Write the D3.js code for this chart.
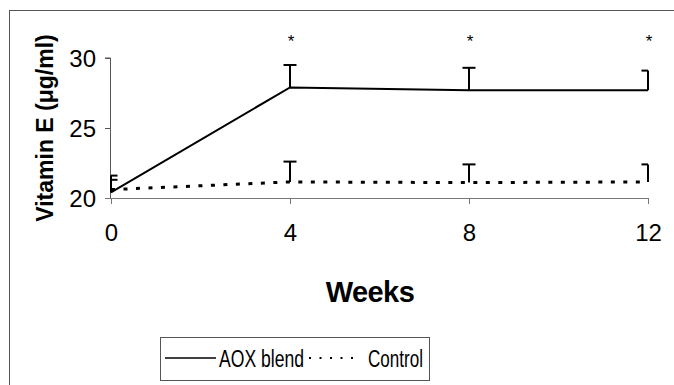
<!DOCTYPE html>
<html>
<head>
<meta charset="utf-8">
<script src="https://cdn.jsdelivr.net/npm/d3@7"></script>
<style>
  html, body { margin: 0; padding: 0; background: #fff; }
  svg { display: block; }
  text { font-family: "Liberation Sans", Arial, sans-serif; fill: #000; }
</style>
</head>
<body>
<svg id="chart" width="674" height="385"></svg>
<script>
// Plasma vitamin E over 12 weeks, mean with upper error bar
const weeks = [0, 4, 8, 12];
const aoxBlend = [20.4, 27.9, 27.7, 27.7];
const aoxErr = [1.2, 1.6, 1.6, 1.4];
const control = [20.6, 21.15, 21.1, 21.15];
const controlErr = [0.7, 1.45, 1.3, 1.25];
const significant = [false, true, true, true];
const yTicks = [20, 25, 30];
const xTicks = [0, 4, 8, 12];
const seriesNames = ["AOX blend", "Control"];

const svg = d3.select("#chart");

// outer frame (runs off the right and bottom edges)
svg.append("rect")
  .attr("x", 9.5).attr("y", 10.5)
  .attr("width", 700).attr("height", 400)
  .attr("fill", "none").attr("stroke", "#555").attr("stroke-width", 1);

const x = d3.scaleLinear().domain([0, 12]).range([111, 648]);
const y = d3.scaleLinear().domain([20, 30]).range([198, 58]);

// y axis
const yAxis = svg.append("g").attr("transform", "translate(111,0)")
  .call(d3.axisLeft(y).tickValues(yTicks).tickSize(6).tickPadding(9).tickFormat(d3.format("d")));
yAxis.select(".domain").attr("stroke", "#555").attr("d", `M-0.5,${y(20)}V${y(30)}H-6`);
yAxis.selectAll(".tick line").attr("stroke", "#555");
yAxis.selectAll("text").style("font-size", "24px").attr("dy", "0.36em");

// x axis
const xAxis = svg.append("g").attr("transform", `translate(0,${y(20)})`)
  .call(d3.axisBottom(x).tickValues(xTicks).tickSize(6).tickPadding(20).tickFormat(d3.format("d")));
xAxis.select(".domain").attr("stroke", "#777").attr("d", `M${x(0)-6},0.5H${x(12)}`);
xAxis.selectAll(".tick line").attr("stroke", "#777");
xAxis.selectAll("text").style("font-size", "24px");

// axis titles
svg.append("text")
  .attr("x", 370).attr("y", 302)
  .attr("text-anchor", "middle")
  .style("font-size", "29px").style("font-weight", "bold").style("letter-spacing", "-0.6px")
  .text("Weeks");

svg.append("text")
  .attr("transform", `translate(53,${(y(20) + y(30)) / 2}) rotate(-90)`)
  .attr("text-anchor", "middle")
  .style("font-size", "23px").style("font-weight", "bold")
  .text("Vitamin E (μg/ml)");

const line = d3.line().x((d, i) => x(weeks[i])).y(d => y(d));

// control (dotted)
svg.append("path").datum(control)
  .attr("d", line).attr("fill", "none").attr("stroke", "#000")
  .attr("stroke-width", 3).attr("stroke-dasharray", "4,8.5");

// AOX blend (solid)
svg.append("path").datum(aoxBlend)
  .attr("d", line).attr("fill", "none").attr("stroke", "#000")
  .attr("stroke-width", 2);

// upper error bars; caps clipped at the plot edges
function errorBars(values, errs) {
  const g = svg.append("g").attr("stroke", "#000").attr("stroke-width", 2);
  values.forEach((v, i) => {
    const cx = x(weeks[i]);
    const top = y(v + errs[i]);
    const left = Math.max(x(0), cx - 6.5);
    const right = Math.min(x(12), cx + 6.5);
    g.append("line").attr("x1", cx).attr("x2", cx).attr("y1", y(v)).attr("y2", top);
    g.append("line").attr("x1", left).attr("x2", right).attr("y1", top).attr("y2", top);
  });
}
errorBars(aoxBlend, aoxErr);
errorBars(control, controlErr);

// significance markers
svg.append("g").selectAll("text")
  .data(weeks.filter((w, i) => significant[i]))
  .join("text")
  .attr("x", d => x(d) + 1).attr("y", 47)
  .attr("text-anchor", "middle")
  .style("font-size", "17px")
  .text("*");

// legend (condensed labels)
const lg = svg.append("g");
lg.append("rect").attr("x", 160.5).attr("y", 337.5).attr("width", 269).attr("height", 43)
  .attr("fill", "#fff").attr("stroke", "#555");
lg.append("line").attr("x1", 165).attr("x2", 216).attr("y1", 358).attr("y2", 358)
  .attr("stroke", "#000").attr("stroke-width", 1.5);
lg.append("text").attr("x", 219).attr("y", 367)
  .style("font-size", "23px")
  .attr("textLength", 85).attr("lengthAdjust", "spacingAndGlyphs")
  .text(seriesNames[0]);
lg.append("line").attr("x1", 309).attr("x2", 354).attr("y1", 358).attr("y2", 358)
  .attr("stroke", "#000").attr("stroke-width", 2).attr("stroke-dasharray", "2,8.5");
lg.append("text").attr("x", 368).attr("y", 367)
  .style("font-size", "23px")
  .attr("textLength", 55).attr("lengthAdjust", "spacingAndGlyphs")
  .text(seriesNames[1]);
</script>
</body>
</html>
